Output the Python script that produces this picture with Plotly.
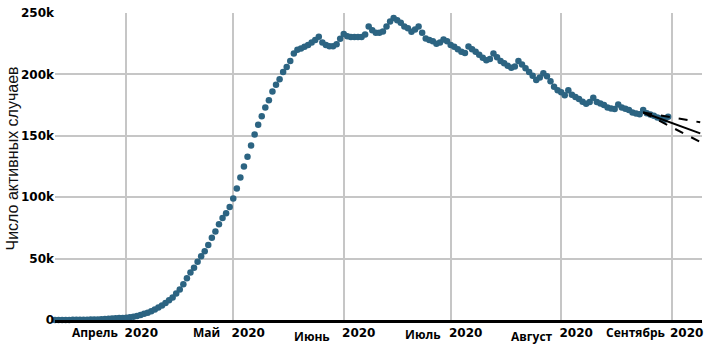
import pandas as pd
import plotly.graph_objects as go

# ---- data (thousands of active cases, daily) ----
start_date = "2020-03-12"
mar = [0.03, 0.04, 0.05, 0.06, 0.09, 0.11, 0.14, 0.18, 0.23, 0.29, 0.35, 0.42, 0.48, 0.60, 0.75,
       0.95, 1.15, 1.35, 1.55, 1.65]
apr = [1.8, 2.2, 2.7, 3.3, 4.1, 5.0, 6.0, 7.2, 8.6, 10.2, 11.9, 13.8, 16.0, 18.3, 21.5, 24.8, 29.2,
       34.0, 38.6, 42.6, 47.4, 52.0, 56.0, 61.0, 67.0, 72.0, 78.0, 83.0, 87.0, 92.0]
may = [99, 107, 116, 125, 133, 142, 151, 159, 166, 173, 179, 186, 191.5, 196, 202, 206, 211, 217,
       220, 221, 222.5, 224, 226, 228, 230.7, 226, 224, 223, 223, 224.5, 229]
jun = [233, 231, 230.5, 230.5, 230.5, 230.5, 232.5, 239, 236, 234, 234, 235, 239, 243, 246, 244,
       242, 239, 237.5, 234.7, 236.6, 239, 234, 229.3, 228, 227, 225, 226, 228.5, 227]
jul = [224, 222.5, 220.5, 218.5, 217.5, 222.7, 220.5, 218.5, 216, 213.5, 211.5, 212.5, 217, 214,
       211, 209, 207, 205.5, 206.5, 211, 208, 205, 202, 199, 195.5, 197.5, 201, 198.5, 194.5, 190,
       187]
aug = [185.5, 183, 187, 183.5, 181.5, 180, 177.7, 176, 177.6, 180.9, 177.6, 176.3, 175, 173, 172.3,
       171.8, 175.5, 173, 172, 171, 169, 168.2, 167.5, 171, 168.3, 167.3, 166.4, 165, 164, 163,
       165.5]
active_k = mar + apr + may + jun + jul + aug
dates = pd.date_range(start_date, periods=len(active_k), freq="D")
active = [v * 1000 for v in active_k]

# forecast (trend and bounds)
fc_dates = ["2020-08-24", "2020-09-09"]
fc_mid = [169000, 152000]
fc_upper = [169000, 161000]
fc_lower = [169000, 145000]

# axis labels
month_ticks = ["2020-04-01", "2020-05-01", "2020-06-01", "2020-07-01", "2020-08-01", "2020-09-01"]
month_names = ["Апрель", "Май", "Июнь", "Июль", "Август", "Сентябрь"]
year_text = ["2020"] * 6
y_ticks = [0, 50000, 100000, 150000, 200000, 250000]
y_ticktext = ["0", "50k", "100k", "150k", "200k", "250k"]
y_title = "Число активных случаев"

# ---- figure ----
fig = go.Figure()
fig.add_trace(go.Scatter(x=dates, y=active, mode="markers",
                         marker=dict(size=6.5, color="#2c6482"),
                         cliponaxis=False, showlegend=False))
fig.add_trace(go.Scatter(x=fc_dates, y=fc_mid, mode="lines",
                         line=dict(color="black", width=2), showlegend=False))
for ys in (fc_upper, fc_lower):
    fig.add_trace(go.Scatter(x=fc_dates, y=ys, mode="lines",
                             line=dict(color="black", width=2, dash="dash"), showlegend=False))

tick_font = dict(family="DejaVu Sans", size=12, color="black", weight="bold")

fig.update_layout(
    width=709, height=346,
    margin=dict(l=55, r=6, t=10, b=25),
    paper_bgcolor="white", plot_bgcolor="white",
    xaxis=dict(type="date", range=["2020-03-12", "2020-09-09 12:00"],
               tickvals=month_ticks, ticktext=year_text, ticklabelshift=15,
               showgrid=True, gridcolor="#c6c6c6", gridwidth=1.5,
               showline=True, linecolor="black", linewidth=2.5,
               zeroline=False, ticks="", tickfont=tick_font),
    yaxis=dict(range=[0, 250000], tickvals=y_ticks, ticktext=y_ticktext,
               showgrid=True, gridcolor="#c6c6c6", gridwidth=1.5,
               showline=False, zeroline=False, ticks="", tickfont=tick_font),
)

shifts = [(-31, -12), (-27, -12), (-32, -16), (-28, -14), (-29, -16), (-36, -12)]
for d, name, (dx, dy) in zip(month_ticks, month_names, shifts):
    fig.add_annotation(x=d, y=0, xref="x", yref="paper", text=name, showarrow=False,
                       xanchor="center", yanchor="middle", xshift=dx, yshift=dy,
                       font=dict(family="Open Sans", size=12, color="black", weight="bold"))

fig.add_annotation(x=0, y=0.5, xref="paper", yref="paper", text=y_title, showarrow=False,
                   textangle=-90, xanchor="center", yanchor="middle", xshift=-43, yshift=8,
                   font=dict(family="Liberation Sans", size=16, color="#111111"))

fig.write_html("out.html", config={"displayModeBar": False},
               post_script="document.body.style.margin='0';document.body.style.overflow='hidden';")
